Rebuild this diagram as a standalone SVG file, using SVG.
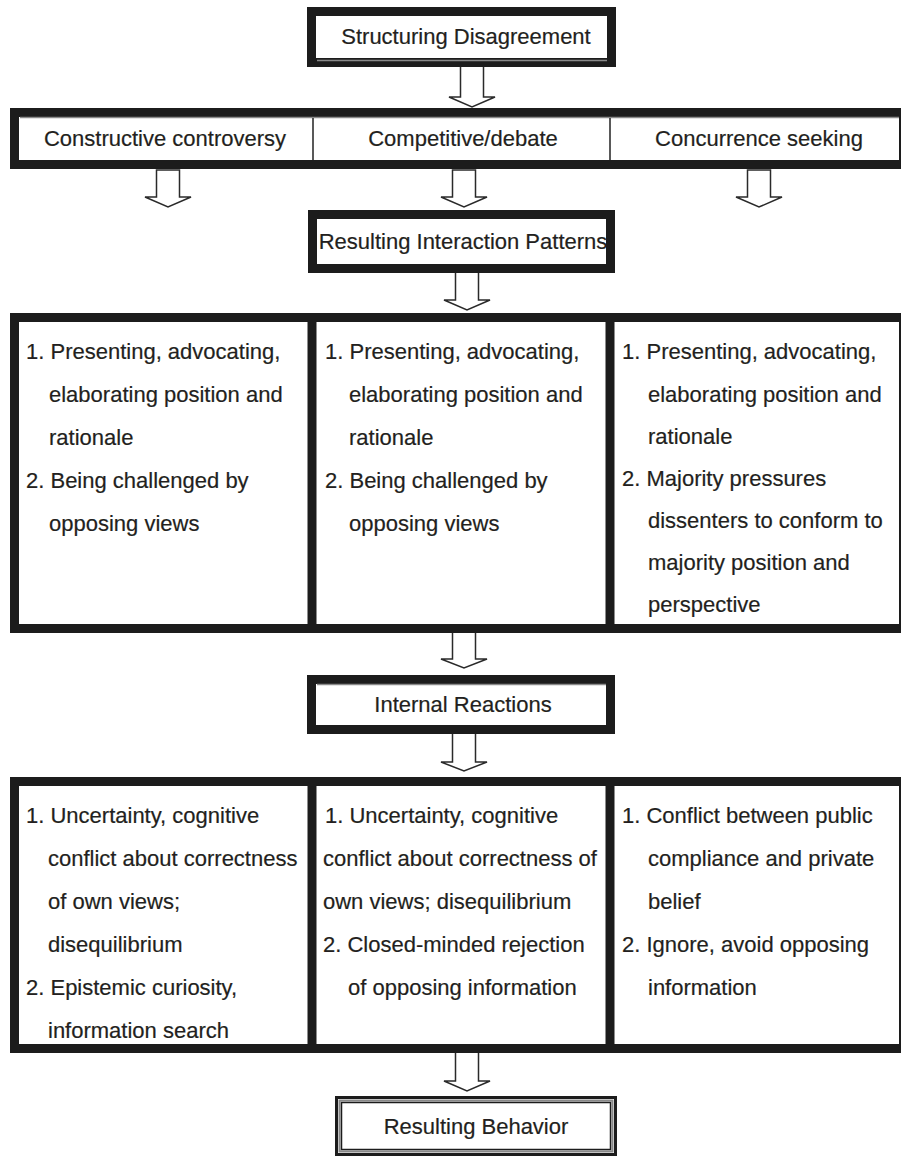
<svg xmlns="http://www.w3.org/2000/svg" width="901" height="1157" viewBox="0 0 901 1157">
<style>
.bx{fill:#fff;stroke:#1c1c1c;stroke-width:9}
.dv{stroke:#1c1c1c;stroke-width:9}
.thin{stroke:#222;stroke-width:1.5}
.gl{stroke:#8a8a8a;stroke-width:1.5}
.t{font-family:"Liberation Sans",Arial,sans-serif;font-size:22px;fill:#231f20;stroke:#231f20;stroke-width:0.2}
.c{text-anchor:middle}
.ar{fill:#fff;stroke:#2a2a2a;stroke-width:1.5;stroke-linejoin:miter}
</style>
<rect width="901" height="1157" fill="#fff"/>
<g id="connectors">
<path class="ar" d="M460.5,66 V97 H449 L472,107 L495,97 H483.5 V66 Z"/>
<path class="ar" d="M156.5,170 V197 H145 L168,207 L191,197 H179.5 V170 Z"/>
<path class="ar" d="M452.5,170 V197 H441 L464,207 L487,197 H475.5 V170 Z"/>
<path class="ar" d="M747.5,170 V197 H736 L759,207 L782,197 H770.5 V170 Z"/>
<path class="ar" d="M455.5,272 V300 H444 L467,310 L490,300 H478.5 V272 Z"/>
<path class="ar" d="M452.5,632 V659 H441 L464,668 L487,659 H475.5 V632 Z"/>
<path class="ar" d="M452.5,733 V762 H441 L464,771 L487,762 H475.5 V733 Z"/>
<path class="ar" d="M455.5,1052 V1081 H444 L467,1091 L490,1081 H478.5 V1052 Z"/>
</g>
<g id="n-structuring">
<rect class="bx" x="311.5" y="11.5" width="300" height="51"/>
<line class="gl" x1="317" y1="60.5" x2="607" y2="60.5"/>
<text class="t c" x="466" y="44">Structuring Disagreement</text>
</g>
<g id="n-approaches">
<rect class="bx" x="14.5" y="112.5" width="889" height="52"/>
<line class="gl" x1="20" y1="117.5" x2="899" y2="117.5"/>
<line class="thin" x1="313" y1="118" x2="313" y2="160"/>
<line class="thin" x1="610" y1="118" x2="610" y2="160"/>
<text class="t c" x="165" y="146">Constructive controversy</text>
<text class="t c" x="463" y="146">Competitive/debate</text>
<text class="t c" x="759" y="146">Concurrence seeking</text>
</g>
<g id="n-interaction-title">
<rect class="bx" x="312.5" y="214.5" width="298" height="54"/>
<text class="t c" x="463" y="249">Resulting Interaction Patterns</text>
</g>
<g id="n-interaction">
<rect class="bx" x="14.5" y="317.5" width="889" height="311"/>
<line class="dv" x1="312" y1="317" x2="312" y2="629"/>
<line class="dv" x1="610" y1="317" x2="610" y2="629"/>
<text class="t" x="26" y="359">1. Presenting, advocating,</text>
<text class="t" x="49" y="402">elaborating position and</text>
<text class="t" x="49" y="445">rationale</text>
<text class="t" x="26" y="488">2. Being challenged by</text>
<text class="t" x="49" y="531">opposing views</text>
<text class="t" x="325" y="359">1. Presenting, advocating,</text>
<text class="t" x="349" y="402">elaborating position and</text>
<text class="t" x="349" y="445">rationale</text>
<text class="t" x="325" y="488">2. Being challenged by</text>
<text class="t" x="349" y="531">opposing views</text>
<text class="t" x="622" y="359">1. Presenting, advocating,</text>
<text class="t" x="648" y="402">elaborating position and</text>
<text class="t" x="648" y="444">rationale</text>
<text class="t" x="622" y="486">2. Majority pressures</text>
<text class="t" x="648" y="528">dissenters to conform to</text>
<text class="t" x="648" y="570">majority position and</text>
<text class="t" x="648" y="612">perspective</text>
</g>
<g id="n-internal-title">
<rect class="bx" x="311.5" y="679.5" width="299" height="50"/>
<line class="gl" x1="317" y1="684.5" x2="606" y2="684.5"/>
<text class="t c" x="463" y="712">Internal Reactions</text>
</g>
<g id="n-internal">
<rect class="bx" x="14.5" y="781.5" width="889" height="267"/>
<line class="dv" x1="312" y1="781" x2="312" y2="1049"/>
<line class="dv" x1="610" y1="781" x2="610" y2="1049"/>
<text class="t" x="26" y="823">1. Uncertainty, cognitive</text>
<text class="t" x="48" y="866">conflict about correctness</text>
<text class="t" x="48" y="909">of own views;</text>
<text class="t" x="48" y="952">disequilibrium</text>
<text class="t" x="26" y="995">2. Epistemic curiosity,</text>
<text class="t" x="48" y="1038">information search</text>
<text class="t" x="325" y="823">1. Uncertainty, cognitive</text>
<text class="t" x="323" y="866">conflict about correctness of</text>
<text class="t" x="323" y="909">own views; disequilibrium</text>
<text class="t" x="323" y="952">2. Closed-minded rejection</text>
<text class="t" x="348" y="995">of opposing information</text>
<text class="t" x="622" y="823">1. Conflict between public</text>
<text class="t" x="648" y="866">compliance and private</text>
<text class="t" x="648" y="909">belief</text>
<text class="t" x="622" y="952">2. Ignore, avoid opposing</text>
<text class="t" x="648" y="995">information</text>
</g>
<g id="n-behavior">
<rect x="336.5" y="1097.5" width="279" height="57" fill="#fff" stroke="#1c1c1c" stroke-width="3"/>
<rect x="339.5" y="1100.5" width="273" height="51" fill="none" stroke="#888" stroke-width="2"/>
<rect x="341.5" y="1102.5" width="269" height="47" fill="#fff" stroke="#1c1c1c" stroke-width="1.5"/>
<text class="t c" x="476" y="1134">Resulting Behavior</text>
</g>
</svg>
